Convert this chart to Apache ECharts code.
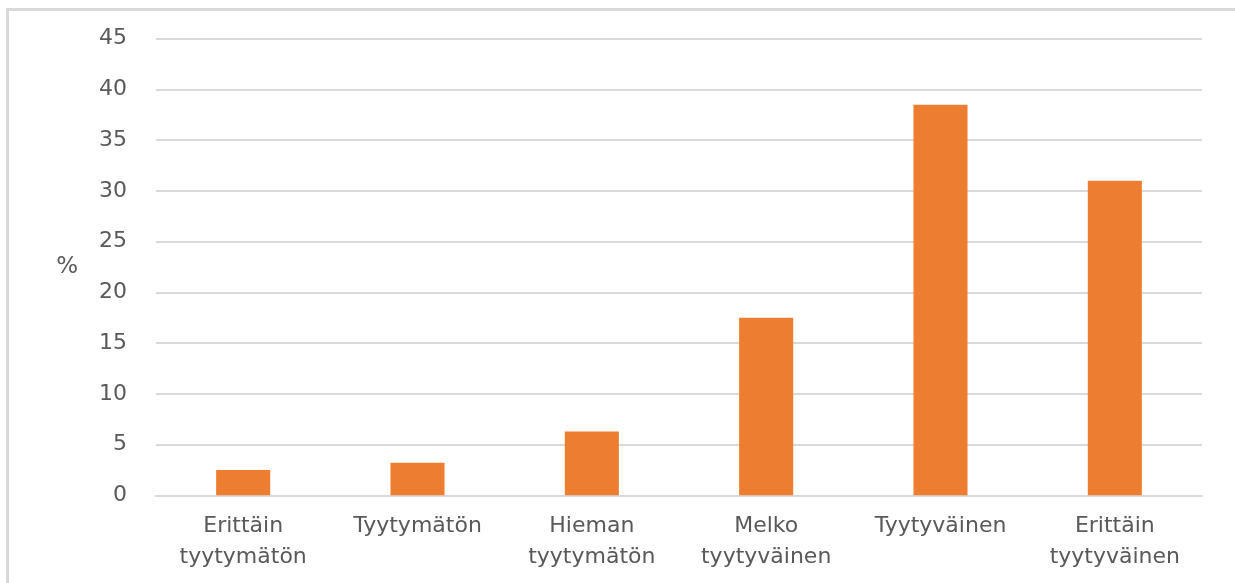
<!DOCTYPE html>
<html>
<head>
<meta charset="utf-8">
<script src="https://cdn.jsdelivr.net/npm/echarts@6/dist/echarts.min.js"></script>
<style>
html,body{margin:0;padding:0;background:#fff;overflow:hidden;width:1235px;height:583px;}
#frame{position:absolute;left:6px;top:8px;width:1240px;height:590px;border:3px solid #d9d9d9;box-sizing:border-box;}
#chart{position:absolute;left:0;top:0;width:1235px;height:583px;}
</style>
</head>
<body>
<div id="frame"></div>
<div id="chart"></div>
<script>
const categories = ["Erittäin tyytymätön", "Tyytymätön", "Hieman tyytymätön", "Melko tyytyväinen", "Tyytyväinen", "Erittäin tyytyväinen"];
const values = [2.5, 3.2, 6.3, 17.5, 38.5, 31.0];
const yAxisName = "%";

const chart = echarts.init(document.getElementById('chart'), null, {renderer: 'canvas'});
const font = "DejaVu Sans";
chart.setOption({
  animation: false,
  grid: {left: 156, right: 33, top: 38.7, bottom: 87.7, containLabel: false},
  xAxis: {
    type: 'category',
    data: categories,
    axisLine: {show: true, lineStyle: {color: '#d9d9d9', width: 2}},
    axisTick: {show: false},
    axisLabel: {
      interval: 0, color: '#595959', fontFamily: font, fontSize: 22, lineHeight: 31, margin: 15,
      formatter: v => v.replace(' ', '\n')
    }
  },
  yAxis: {
    type: 'value', min: 0, max: 45, interval: 5,
    name: yAxisName, nameLocation: 'middle', nameRotate: 0, nameGap: 78,
    nameTextStyle: {color: '#595959', fontFamily: font, fontSize: 23, align: 'right'},
    axisLine: {show: false}, axisTick: {show: false},
    axisLabel: {color: '#595959', fontFamily: font, fontSize: 22, margin: 29},
    splitLine: {lineStyle: {color: '#d9d9d9', width: 2}}
  },
  series: [{
    type: 'bar', data: values, barWidth: '31%',
    itemStyle: {color: '#ed7d31'}
  }]
});
</script>
</body>
</html>
